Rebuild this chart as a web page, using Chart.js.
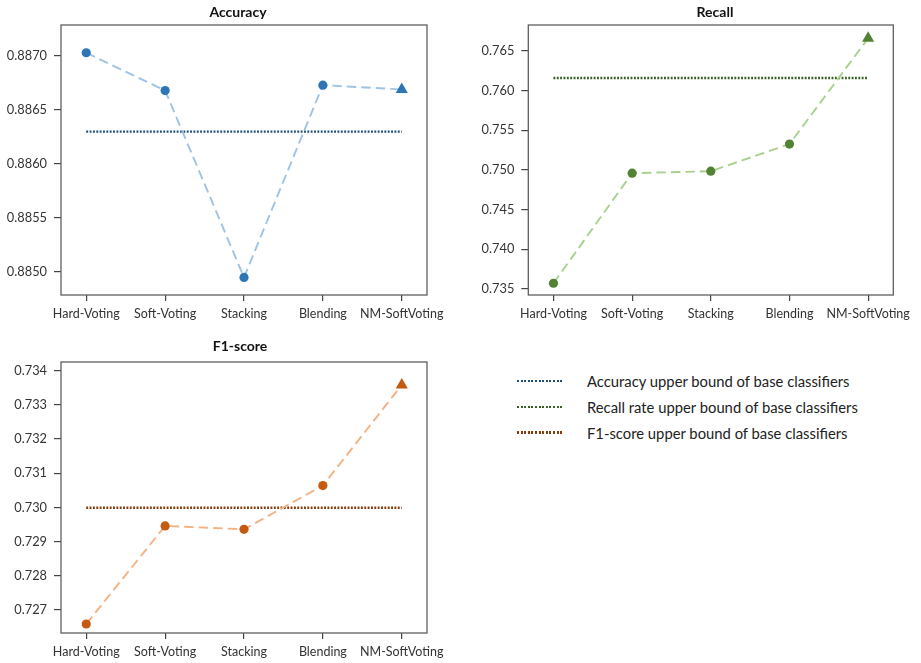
<!DOCTYPE html>
<html>
<head>
<meta charset="utf-8">
<script src="https://cdn.jsdelivr.net/npm/chart.js@4/dist/chart.umd.min.js"></script>
<style>
  html, body { margin: 0; padding: 0; background: #fff; width: 921px; height: 663px; overflow: hidden; }
  canvas { position: absolute; }
  #legend { position: absolute; left: 517px; top: 368px; font-family: Lato, "Open Sans", sans-serif; font-size: 14.8px; color: #222; }
  #legend .row { position: absolute; left: 0; height: 26px; display: flex; align-items: center; white-space: nowrap; }
  #legend .swatch { width: 46px; height: 2.4px; margin-right: 24px; }
</style>
</head>
<body>
<canvas id="accChart" width="476" height="325" style="left:0;top:0"></canvas>
<canvas id="recChart" width="510" height="325" style="left:460px;top:0"></canvas>
<canvas id="f1Chart" width="480" height="326" style="left:0;top:337px"></canvas>
<div id="legend"></div>
<script>
// Ensemble methods compared on three metrics
const categories = ['Hard-Voting', 'Soft-Voting', 'Stacking', 'Blending', 'NM-SoftVoting'];
const accuracy = [0.88703, 0.88668, 0.88495, 0.88673, 0.88669];
const recall = [0.73572, 0.74958, 0.74983, 0.75324, 0.76656];
const f1score = [0.72659, 0.72946, 0.72936, 0.73064, 0.73358];

// Best single (base) classifier for each metric
const accuracyBound = 0.88630;
const recallBound = 0.76156;
const f1Bound = 0.72999;

const accuracyTicks = [0.8850, 0.8855, 0.8860, 0.8865, 0.8870];
const recallTicks = [0.735, 0.740, 0.745, 0.750, 0.755, 0.760, 0.765];
const f1Ticks = [0.727, 0.728, 0.729, 0.730, 0.731, 0.732, 0.733, 0.734];

const legendLabels = [
  'Accuracy upper bound of base classifiers',
  'Recall rate upper bound of base classifiers',
  'F1-score upper bound of base classifiers'
];

const FONT = 'Lato, "Open Sans", sans-serif';
const palette = {
  acc: { marker: '#2E75B6', line: '#9DC3E6', bound: '#1F4E79' },
  rec: { marker: '#548235', line: '#A9D18E', bound: '#3A5F24' },
  f1:  { marker: '#C55A11', line: '#F4B183', bound: '#843C0C' }
};

// Box around the plotting area
const framePlugin = {
  id: 'frame',
  beforeDatasetsDraw(chart) {
    const { ctx, chartArea: a } = chart;
    ctx.save();
    ctx.strokeStyle = '#5f5f5f';
    ctx.lineWidth = 1.3;
    ctx.strokeRect(a.left, a.top, a.right - a.left, a.bottom - a.top);
    ctx.restore();
  }
};

// area: plot box edges inside the canvas; the title is centred over the
// full canvas width, so an empty right-hand spacer axis fills the rest.
function buildChart(id, opts) {
  const { title, values, bound, ticks, decimals, yMin, yMax, colors, area, titlePad } = opts;
  const spacer = area.canvasWidth - area.right;
  const last = values.length - 1;

  return new Chart(document.getElementById(id), {
    type: 'line',
    data: {
      datasets: [
        {
          data: values.map((v, i) => ({ x: i, y: v })),
          borderColor: colors.line,
          borderWidth: 1.9,
          borderDash: [9.5, 5],
          pointStyle: values.map((_, i) => i === last ? 'triangle' : 'circle'),
          pointRadius: values.map((_, i) => i === last ? 7 : 4.6),
          pointBackgroundColor: colors.marker,
          pointBorderColor: colors.marker,
          pointBorderWidth: 0,
          clip: false,
          order: 1
        },
        {
          data: [{ x: 0, y: bound }, { x: last, y: bound }],
          borderColor: colors.bound,
          borderWidth: 2.4,
          borderDash: [1.9, 1.45],
          pointRadius: 0,
          order: 2
        }
      ]
    },
    options: {
      responsive: false,
      animation: false,
      layout: { padding: 0 },
      plugins: {
        legend: { display: false },
        tooltip: { enabled: false },
        title: {
          display: true,
          text: title,
          fullSize: true,
          color: '#111',
          font: { family: FONT, size: 14, weight: 'bold', lineHeight: 1.2 },
          padding: titlePad
        }
      },
      scales: {
        x: {
          type: 'linear',
          min: -0.32,
          max: last + 0.32,
          border: { display: false },
          grid: { drawOnChartArea: false, drawTicks: true, tickLength: 6, color: '#444', lineWidth: 1.2 },
          afterBuildTicks(scale) { scale.ticks = categories.map((_, i) => ({ value: i })); },
          afterFit(scale) { scale.height = 30; },
          ticks: {
            autoSkip: false, maxRotation: 0, padding: 5.5,
            color: '#333', font: { family: FONT, size: 12.5 },
            callback: (v) => categories[v]
          }
        },
        y: {
          min: yMin,
          max: yMax,
          border: { display: false },
          grid: { drawOnChartArea: false, drawTicks: true, tickLength: 7, color: '#444', lineWidth: 1.2 },
          afterBuildTicks(scale) { scale.ticks = ticks.map(v => ({ value: v })); },
          afterFit(scale) { scale.width = area.left; },
          ticks: {
            padding: 7, color: '#333', font: { family: FONT, size: 12.8 },
            callback: (v) => Number(v).toFixed(decimals)
          }
        },
        spacer: {
          position: 'right',
          display: true,
          border: { display: false },
          grid: { display: false },
          ticks: { display: false },
          afterFit(scale) { scale.width = spacer; }
        }
      }
    },
    plugins: [framePlugin]
  });
}

buildChart('accChart', {
  title: 'Accuracy', values: accuracy, bound: accuracyBound,
  ticks: accuracyTicks, decimals: 4, yMin: 0.884787, yMax: 0.887287,
  colors: palette.acc, titlePad: { top: 4.5, bottom: 3.7 },
  area: { left: 61, right: 427, canvasWidth: 476 }
});

buildChart('recChart', {
  title: 'Recall', values: recall, bound: recallBound,
  ticks: recallTicks, decimals: 3, yMin: 0.73424, yMax: 0.76824,
  colors: palette.rec, titlePad: { top: 4, bottom: 4.2 },
  area: { left: 68.3, right: 433.3, canvasWidth: 510 }
});

buildChart('f1Chart', {
  title: 'F1-score', values: f1score, bound: f1Bound,
  ticks: f1Ticks, decimals: 3, yMin: 0.726327, yMax: 0.734254,
  colors: palette.f1, titlePad: { top: 1.2, bottom: 7 },
  area: { left: 61, right: 427, canvasWidth: 480 }
});

// Legend for the three reference lines
const legend = document.getElementById('legend');
[palette.acc.bound, palette.rec.bound, palette.f1.bound].forEach((c, i) => {
  const row = document.createElement('div');
  row.className = 'row';
  row.style.top = (i * 25.8) + 'px';
  const sw = document.createElement('div');
  sw.className = 'swatch';
  sw.style.background = `repeating-linear-gradient(90deg, ${c} 0 2px, transparent 2px 3.6px)`;
  const tx = document.createElement('span');
  tx.textContent = legendLabels[i];
  row.appendChild(sw);
  row.appendChild(tx);
  legend.appendChild(row);
});
</script>
</body>
</html>
